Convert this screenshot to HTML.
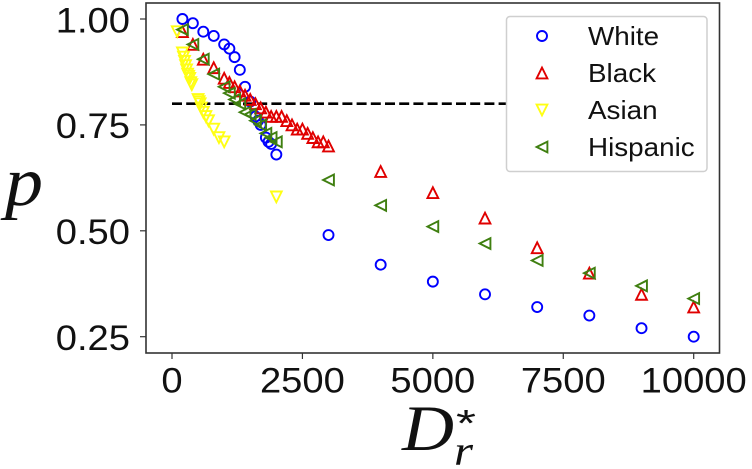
<!DOCTYPE html>
<html lang="en">
<head>
<meta charset="utf-8">
<title>p vs D_r*</title>
<style>
html,body{margin:0;padding:0;background:#fff;width:752px;height:469px;overflow:hidden}
svg{display:block}
text{font-family:"Liberation Sans",sans-serif;fill:#111}
.math{font-family:"Liberation Serif",serif;font-style:italic}
</style>
</head>
<body>
<svg id="chart" xmlns="http://www.w3.org/2000/svg" width="752" height="469" viewBox="0 0 752 469">
  <rect x="146" y="3" width="573" height="350" fill="#fff"/>
  <g id="marks"></g>
  <g id="axes"></g>
  <g id="legend"></g>
  <text class="math" x="5" y="205" font-size="70" textLength="38" lengthAdjust="spacingAndGlyphs">p</text>
  <text class="math" x="402" y="450" font-size="65" textLength="52" lengthAdjust="spacingAndGlyphs">D</text>
  <text class="math" x="454" y="465" font-size="42" textLength="19" lengthAdjust="spacingAndGlyphs">r</text>
  <text x="456" y="436" font-size="38" textLength="20" lengthAdjust="spacingAndGlyphs">*</text>
</svg>
<script>
var xTicks = [0, 2500, 5000, 7500, 10000];
var xTickLabels = ["0", "2500", "5000", "7500", "10000"];
var yTicks = [0.25, 0.5, 0.75, 1.0];
var yTickLabels = ["0.25", "0.50", "0.75", "1.00"];
var thresholdValue = 0.8;

var whiteX = [200,400,600,800,1000,1100,1200,1300,1400,1500,1600,1650,1700,1800,1850,1900,2000,3000,4000,5000,6000,7000,8000,9000,10000];
var whiteP = [1.00,0.99,0.97,0.96,0.94,0.93,0.91,0.88,0.84,0.805,0.77,0.76,0.75,0.72,0.71,0.705,0.68,0.49,0.42,0.38,0.35,0.32,0.30,0.27,0.25];

var blackX = [200,400,600,800,1000,1100,1200,1300,1400,1500,1600,1700,1800,1900,2000,2100,2200,2300,2400,2500,2600,2700,2800,2900,3000,4000,5000,6000,7000,8000,9000,10000];
var blackP = [0.97,0.94,0.905,0.885,0.86,0.85,0.84,0.83,0.82,0.81,0.80,0.79,0.78,0.77,0.77,0.77,0.76,0.75,0.74,0.74,0.73,0.72,0.71,0.71,0.70,0.64,0.59,0.53,0.46,0.40,0.35,0.32];

var asianX = [100,200,220,240,260,280,300,320,340,360,380,500,520,540,560,600,650,700,800,900,1000,2000];
var asianP = [0.97,0.92,0.91,0.90,0.89,0.88,0.87,0.865,0.86,0.85,0.845,0.81,0.805,0.80,0.79,0.78,0.77,0.76,0.74,0.72,0.71,0.58];

var hispanicX = [200,400,600,800,1000,1100,1200,1300,1400,1500,1600,1700,1800,1900,2000,3000,4000,5000,6000,7000,8000,9000,10000];
var hispanicP = [0.975,0.94,0.905,0.87,0.84,0.825,0.81,0.80,0.78,0.775,0.76,0.75,0.73,0.72,0.71,0.62,0.56,0.51,0.47,0.43,0.40,0.37,0.34];

var legendLabels = ["White", "Black", "Asian", "Hispanic"];

var NS = "http://www.w3.org/2000/svg";
var marks = document.getElementById("marks");
var axes = document.getElementById("axes");
var legend = document.getElementById("legend");

function xScale(v){ return 172 + v * 0.05217; }
function yScale(v){ return 336.7 - (v - 0.25) * 423.6; }

function make(tag, parent, attrs){
  var el = document.createElementNS(NS, tag);
  for (var k in attrs) el.setAttribute(k, attrs[k]);
  parent.appendChild(el);
  return el;
}

function drawMarker(parent, kind, color, cx, cy){
  var s = 5.4;
  var el;
  if (kind === "circle") {
    el = make("circle", parent, {cx: cx, cy: cy, r: 5, fill: "none", stroke: color, "stroke-width": 1.9});
  } else {
    var pts;
    if (kind === "up") pts = [[cx, cy - s], [cx - s, cy + s], [cx + s, cy + s]];
    if (kind === "down") pts = [[cx, cy + s], [cx - s, cy - s], [cx + s, cy - s]];
    if (kind === "left") pts = [[cx - s, cy], [cx + s, cy - s], [cx + s, cy + s]];
    el = make("polygon", parent, {points: pts.join(" "), fill: "none", stroke: color, "stroke-width": 1.9});
  }
  return el;
}

function drawLabel(parent, str, x, y, size, anchor, stretch){
  var t = make("text", parent, {x: x, y: y, "font-size": size, "text-anchor": anchor});
  t.textContent = str;
  var w = t.getComputedTextLength();
  t.setAttribute("textLength", w * stretch);
  t.setAttribute("lengthAdjust", "spacingAndGlyphs");
  return t;
}

function drawSeries(name, xs, ps, kind, color){
  var g = make("g", marks, {});
  
  
  for (var i = 0; i < xs.length; i++) {
    var m = drawMarker(g, kind, color, xScale(xs[i]), yScale(ps[i]));
    
    
  }
}

var threshold = make("line", marks, {x1: xScale(0), x2: 506, y1: yScale(thresholdValue), y2: yScale(thresholdValue), stroke: "#000", "stroke-width": 2.6, "stroke-dasharray": "10 4.2"});



drawSeries("white", whiteX, whiteP, "circle", "#0000ff");
drawSeries("black", blackX, blackP, "up", "#e00000");
drawSeries("asian", asianX, asianP, "down", "#ffff14");
drawSeries("hispanic", hispanicX, hispanicP, "left", "#3f7f10");

var frame = make("rect", axes, {x: 146, y: 3, width: 573.5, height: 350, fill: "none", stroke: "#333", "stroke-width": 1.6});



for (var i = 0; i < xTicks.length; i++) {
  var px = xScale(xTicks[i]);
  var tick = make("line", axes, {x1: px, x2: px, y1: 353, y2: 359, stroke: "#333", "stroke-width": 1.2});
  
  
  var lab = drawLabel(axes, xTickLabels[i], px, 392.5, 35, "middle", 1.09);
  
  
}
for (var j = 0; j < yTicks.length; j++) {
  var py = yScale(yTicks[j]);
  var ytick = make("line", axes, {x1: 140, x2: 146, y1: py, y2: py, stroke: "#333", "stroke-width": 1.2});
  
  
  var ylab = drawLabel(axes, yTickLabels[j], 130, py + 13.3, 35, "end", 1.09);
  
  
}

var legendBox = make("rect", legend, {x: 506.5, y: 16.5, width: 200.5, height: 155, rx: 3.5, fill: "#fff", stroke: "#cfcfcf", "stroke-width": 1.5});



var legendKinds = ["circle", "up", "down", "left"];
var legendColors = ["#0000ff", "#e00000", "#ffff14", "#3f7f10"];
for (var n = 0; n < legendLabels.length; n++) {
  var ly = 36 + n * 37;
  var lm = drawMarker(legend, legendKinds[n], legendColors[n], 542, ly);
  
  
  var lt = drawLabel(legend, legendLabels[n], 588, ly + 9, 26, "start", 1.07);
  
  
}
</script>
</body>
</html>
